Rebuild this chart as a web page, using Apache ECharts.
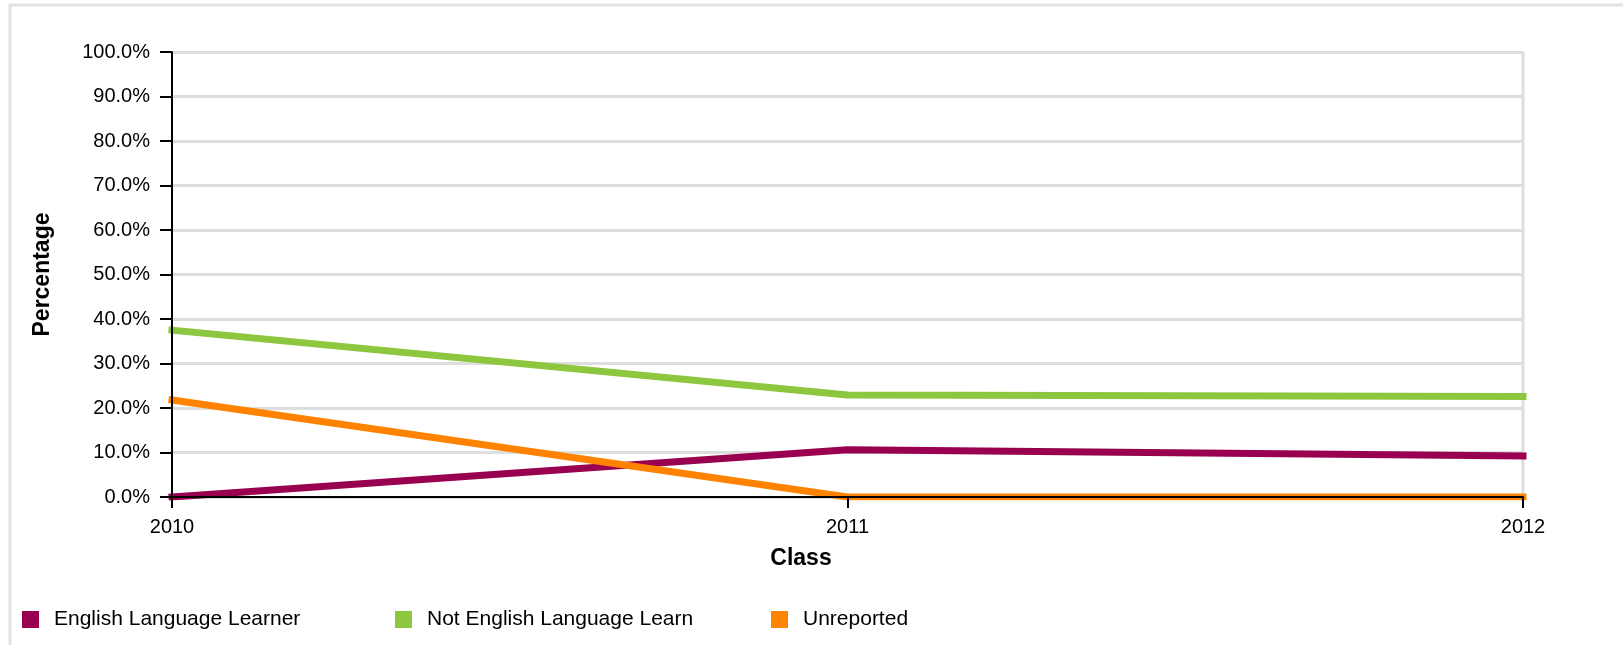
<!DOCTYPE html>
<html>
<head>
<meta charset="utf-8">
<script src="https://cdn.jsdelivr.net/npm/echarts@6/dist/echarts.min.js"></script>
<style>html,body{margin:0;padding:0;background:#fff;}#chart{width:1623px;height:645px;}</style>
</head>
<body>
<div id="chart"></div>
<script>
const categories = ['2010', '2011', '2012'];
const seriesNames = ['English Language Learner', 'Not English Language Learn', 'Unreported'];
const ellValues = [0.0, 10.6, 9.2];
const notEllValues = [37.5, 22.9, 22.6];
const unreportedValues = [21.8, 0.0, 0.0];
const yTicks = [0, 10, 20, 30, 40, 50, 60, 70, 80, 90, 100];

const colors = ['#990050', '#8dc63f', '#ff8200'];
const font = 'Liberation Sans, Arial, sans-serif';

const chart = echarts.init(document.getElementById('chart'));
const legendLefts = [17, 390, 766];
const mkLegend = (i) => ({
  data: [seriesNames[i]],
  left: legendLefts[i], top: 604,
  itemWidth: 17, itemHeight: 17, itemGap: 10,
  icon: 'rect',
  textStyle: {fontFamily: font, fontSize: 21, color: '#000', padding: [0,0,0,10]}
});
chart.setOption({
  animation: false,
  color: colors,
  grid: {left: 172, right: 100, top: 52, bottom: 148, containLabel: false},
  legend: [mkLegend(0), mkLegend(1), mkLegend(2)],
  xAxis: {
    type: 'category', data: categories, boundaryGap: false, z: 5,
    axisLine: {lineStyle: {color: '#000', width: 2}},
    axisTick: {show: true, length: 11, lineStyle: {color: '#000', width: 2}},
    axisLabel: {fontFamily: font, fontSize: 20, color: '#000', margin: 20},
    splitLine: {show: false}
  },
  yAxis: [{
    type: 'value', min: yTicks[0], max: yTicks[10], interval: 10, z: 0,
    axisLine: {show: false}, axisTick: {show: false}, axisLabel: {show: false},
    splitLine: {show: true, lineStyle: {color: '#dedede', width: 3}}
  }, {
    type: 'value', min: yTicks[0], max: yTicks[10], interval: 10, z: 5, position: 'left',
    name: 'Percentage', nameLocation: 'middle', nameGap: 118,
    nameTextStyle: {fontFamily: font, fontSize: 23, fontWeight: 'bold', color: '#000'},
    axisLine: {show: true, lineStyle: {color: '#000', width: 2}},
    axisTick: {show: true, length: 12, lineStyle: {color: '#000', width: 2}},
    axisLabel: {fontFamily: font, fontSize: 20, color: '#000', margin: 22, formatter: v => v.toFixed(1) + '%'},
    splitLine: {show: false}
  }],
  series: [
    {name: seriesNames[0], type: 'line', data: ellValues, showSymbol: false, lineStyle: {width: 7, cap: 'square'}, z: 2},
    {name: seriesNames[1], type: 'line', data: notEllValues, showSymbol: false, lineStyle: {width: 7, cap: 'square'}, z: 2},
    {name: seriesNames[2], type: 'line', data: unreportedValues, showSymbol: false, lineStyle: {width: 7, cap: 'square'}, z: 2}
  ]
});
const xr = chart.convertToPixel({xAxisIndex: 0}, categories[2]);
chart.setOption({
  graphic: [
    {type: 'rect', shape: {x: 10, y: 5, width: 1800, height: 800}, style: {fill: 'none', stroke: '#e2e2e2', lineWidth: 3}, z: -1},
    {type: 'text', style: {text: 'Class', x: 801, y: 559, textAlign: 'center', textVerticalAlign: 'middle', font: 'bold 23px Liberation Sans, Arial, sans-serif', fill: '#000'}},
    {type: 'line', shape: {x1: xr, y1: chart.convertToPixel({yAxisIndex: 0}, yTicks[10]), x2: xr, y2: chart.convertToPixel({yAxisIndex: 0}, yTicks[0])}, style: {stroke: '#dedede', lineWidth: 3}, z: 0}
  ]
});
</script>
</body>
</html>
